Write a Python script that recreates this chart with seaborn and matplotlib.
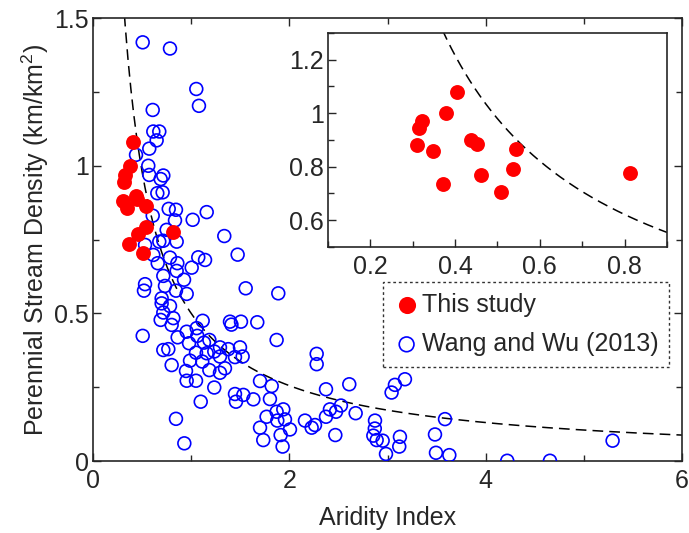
import numpy as np
import pandas as pd
import matplotlib
matplotlib.use("Agg")
import matplotlib.pyplot as plt
import seaborn as sns
from matplotlib.ticker import MultipleLocator, FuncFormatter

# This study (aridity index, perennial stream density)
study_x = [0.309, 0.316, 0.321, 0.347, 0.371, 0.379, 0.405, 0.437, 0.452,
           0.461, 0.508, 0.537, 0.544, 0.812]
study_y = [0.880, 0.946, 0.970, 0.858, 0.736, 0.999, 1.080, 0.899, 0.886,
           0.770, 0.705, 0.791, 0.865, 0.775]

# Wang and Wu (2013)
wang_x = [0.506, 0.784, 1.052, 1.079, 0.608, 0.614, 0.675, 0.648, 0.573, 0.438,
          0.563, 0.573, 0.716, 0.689, 0.655, 0.709, 0.771, 0.845, 1.158, 0.608,
          0.835, 1.015, 0.750, 1.337, 0.675, 0.852, 0.530, 0.716, 1.473, 0.614,
          0.784, 1.072, 1.141, 0.659, 0.859, 1.005, 0.852, 0.716, 0.927, 0.530,
          0.733, 0.519, 1.555, 0.845, 0.954, 0.699, 0.699, 0.784, 0.716, 0.818,
          0.689, 0.801, 1.117, 1.395, 1.410, 1.507, 1.673, 0.506, 0.954, 1.056,
          1.062, 0.862, 0.978, 1.130, 1.185, 0.716, 0.767, 1.049, 1.158, 1.235,
          1.293, 1.378, 1.497, 1.524, 1.446, 1.293, 0.988, 1.113, 0.801, 1.185,
          1.293, 1.344, 0.947, 0.954, 1.049, 1.235, 1.701, 1.446, 1.456, 1.531,
          1.633, 1.097, 0.845, 0.930, 1.768, 1.701, 1.734, 1.887, 1.870, 2.278,
          2.278, 1.820, 1.802, 1.870, 1.938, 1.955, 1.877, 1.911, 2.006, 1.931,
          2.159, 2.227, 2.261, 2.373, 2.373, 2.413, 2.475, 2.525, 2.468, 2.610,
          2.675, 2.872, 2.855, 2.889, 2.950, 2.984, 3.041, 3.075, 3.177, 3.126,
          3.119, 3.483, 3.585, 3.493, 3.629, 4.219, 4.654, 5.292, 2.870]
wang_y = [1.418, 1.397, 1.260, 1.203, 1.189, 1.116, 1.116, 1.086, 1.058, 1.037,
          1.000, 0.969, 0.967, 0.955, 0.907, 0.910, 0.854, 0.851, 0.843, 0.831,
          0.815, 0.817, 0.783, 0.762, 0.743, 0.743, 0.732, 0.746, 0.699, 0.698,
          0.689, 0.690, 0.681, 0.670, 0.670, 0.655, 0.644, 0.627, 0.614, 0.599,
          0.593, 0.577, 0.585, 0.577, 0.566, 0.551, 0.534, 0.525, 0.503, 0.484,
          0.478, 0.461, 0.475, 0.472, 0.462, 0.472, 0.470, 0.424, 0.438, 0.450,
          0.424, 0.419, 0.399, 0.401, 0.410, 0.376, 0.379, 0.367, 0.365, 0.371,
          0.385, 0.379, 0.385, 0.354, 0.352, 0.354, 0.340, 0.337, 0.325, 0.308,
          0.299, 0.314, 0.305, 0.272, 0.272, 0.249, 0.271, 0.227, 0.201, 0.224,
          0.209, 0.201, 0.143, 0.060, 0.150, 0.113, 0.071, 0.568, 0.410, 0.363,
          0.328, 0.254, 0.210, 0.167, 0.175, 0.141, 0.137, 0.088, 0.107, 0.049,
          0.137, 0.113, 0.122, 0.243, 0.150, 0.175, 0.167, 0.188, 0.088, 0.260,
          0.162, 0.137, 0.086, 0.071, 0.069, 0.024, 0.232, 0.258, 0.277, 0.082,
          0.049, 0.090, 0.142, 0.028, 0.020, 0.001, 0.001, 0.069, 0.110]

# power-law envelope  y = a / x^b
curve_a = 0.5
curve_b = 0.97

study = pd.DataFrame({"ai": study_x, "psd": study_y})
wang = pd.DataFrame({"ai": wang_x, "psd": wang_y})

FS = 18

sns.set_style("ticks")
plt.rcParams["font.family"] = ["Liberation Sans", "DejaVu Sans"]
plt.rcParams["mathtext.fontset"] = "custom"
plt.rcParams["mathtext.rm"] = "Liberation Sans"
plt.rcParams["xtick.direction"] = "in"
plt.rcParams["ytick.direction"] = "in"

fig = plt.figure(figsize=(6.89, 5.33), dpi=100)
ax = fig.add_axes([0.135, 0.135, 0.855, 0.831])

fmt = FuncFormatter(lambda v, p: "%g" % round(v, 3))

# main panel
sns.scatterplot(data=wang, x="ai", y="psd", ax=ax, marker="o", s=85,
                facecolors="none", edgecolor="#0000ff", linewidth=1.2,
                label="Wang and Wu (2013)", zorder=3)
sns.scatterplot(data=study, x="ai", y="psd", ax=ax, marker="o", s=115,
                color="#ff0000", edgecolor="#ff0000", linewidth=0,
                label="This study", zorder=4)
xc = np.linspace(0.3, 6, 400)
ax.plot(xc, curve_a / xc ** curve_b, ls=(0, (7, 4)), color="black", lw=1.1, zorder=2)

ax.set_xlim(0, 6)
ax.set_ylim(0, 1.5)
ax.xaxis.set_major_locator(MultipleLocator(2))
ax.xaxis.set_minor_locator(MultipleLocator(1))
ax.yaxis.set_major_locator(MultipleLocator(0.5))
ax.yaxis.set_minor_locator(MultipleLocator(0.25))
ax.xaxis.set_major_formatter(fmt)
ax.yaxis.set_major_formatter(fmt)
ax.tick_params(which="both", top=True, right=True, labelsize=FS, width=1.0, pad=3)
ax.tick_params(axis="x", which="major", pad=6)
ax.tick_params(which="major", length=6)
ax.tick_params(which="minor", length=4)
for sp in ax.spines.values():
    sp.set_linewidth(1.2)
ax.set_xlabel("Aridity Index", fontsize=FS, labelpad=9)
ax.set_ylabel("Perennial Stream Density (km/km$^2$)", fontsize=FS, labelpad=2)

handles, labels = ax.get_legend_handles_labels()
leg = ax.legend(handles[::-1], labels[::-1], loc="upper left",
                bbox_to_anchor=(0.492, 0.405), fontsize=FS, frameon=True,
                fancybox=False, handletextpad=0.1, borderpad=0.45,
                labelspacing=0.6, handlelength=1.0, borderaxespad=0,
                markerscale=1.15)
leg.get_frame().set_edgecolor("black")
leg.get_frame().set_linestyle((0, (2, 2)))
leg.get_frame().set_linewidth(1.0)

# inset
ins = fig.add_axes([0.476, 0.537, 0.492, 0.401])
sns.scatterplot(data=study, x="ai", y="psd", ax=ins, marker="o", s=115,
                color="#ff0000", edgecolor="#ff0000", linewidth=0, zorder=4,
                legend=False)
xi = np.linspace(0.1, 0.9, 300)
ins.plot(xi, curve_a / xi ** curve_b, ls=(0, (7, 4)), color="black", lw=1.1, zorder=2)
ins.set_xlim(0.1, 0.9)
ins.set_ylim(0.5, 1.3)
ins.xaxis.set_major_locator(MultipleLocator(0.2))
ins.xaxis.set_minor_locator(MultipleLocator(0.1))
ins.yaxis.set_major_locator(MultipleLocator(0.2))
ins.yaxis.set_minor_locator(MultipleLocator(0.1))
ins.xaxis.set_major_formatter(fmt)
ins.yaxis.set_major_formatter(fmt)
ins.tick_params(which="both", top=False, right=False, labelsize=FS, width=1.0, pad=3)
ins.tick_params(axis="x", which="major", pad=6)
ins.tick_params(which="major", length=6)
ins.tick_params(which="minor", length=4)
for sp in ins.spines.values():
    sp.set_linewidth(1.2)
ins.set_xlabel("")
ins.set_ylabel("")

fig.savefig("out.png", dpi=100)
